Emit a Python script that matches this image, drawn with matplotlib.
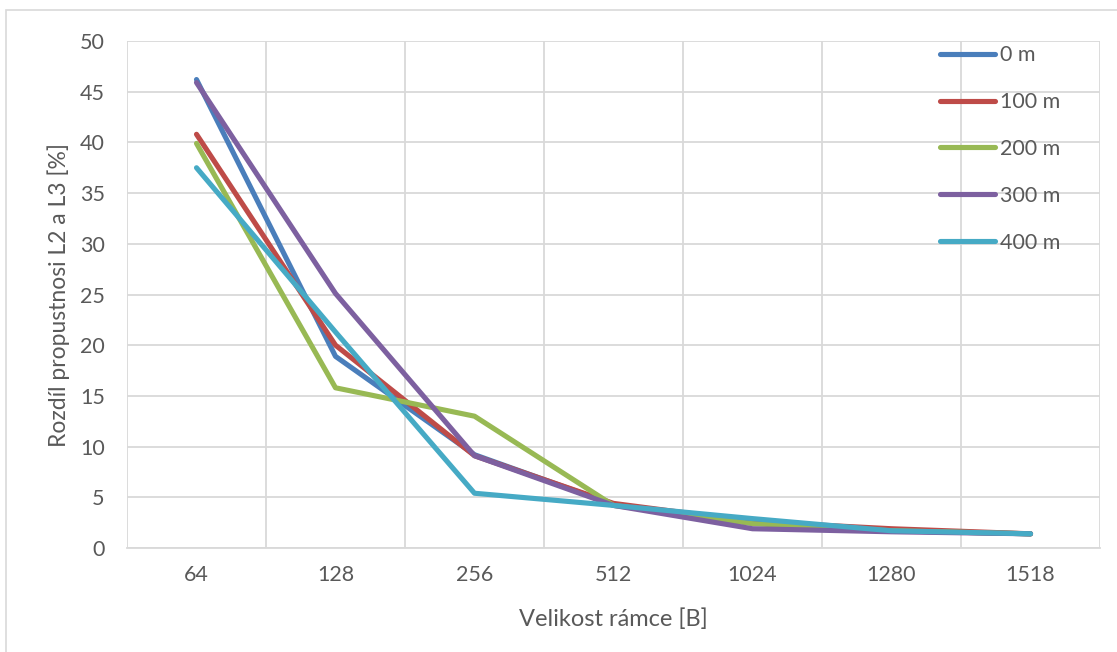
import numpy as np
import matplotlib.pyplot as plt
from matplotlib.patches import Rectangle

# data
frame_sizes = ["64", "128", "256", "512", "1024", "1280", "1518"]
series_names = ["0 m", "100 m", "200 m", "300 m", "400 m"]
diff_0m = [46.2, 18.9, 9.2, 4.3, 2.6, 1.7, 1.4]
diff_100m = [40.8, 20.0, 9.1, 4.4, 2.6, 1.9, 1.4]
diff_200m = [39.9, 15.8, 13.0, 4.2, 2.4, 1.7, 1.4]
diff_300m = [45.9, 25.1, 9.1, 4.2, 1.9, 1.6, 1.4]
diff_400m = [37.5, 21.3, 5.4, 4.2, 2.9, 1.7, 1.4]

colors = ["#4A7EBB", "#BE4B48", "#98B954", "#7D60A0", "#46AAC5"]

plt.rcParams["font.family"] = ["Lato", "DejaVu Sans"]

fig = plt.figure(figsize=(11.17, 6.52), dpi=100)
fig.patches.append(Rectangle((0.005, -0.01), 1.1, 0.995, transform=fig.transFigure,
                             fill=False, edgecolor="#D9D9D9", linewidth=1.2))
ax = fig.add_axes([0.1137, 0.1595, 0.8711, 0.7776])

x = np.arange(len(frame_sizes))
all_series = [diff_0m, diff_100m, diff_200m, diff_300m, diff_400m]
for name, vals, c in zip(series_names, all_series, colors):
    ax.plot(x, vals, color=c, linewidth=3.7, label=name,
            solid_capstyle="round", solid_joinstyle="round")

ax.set_xlim(-0.5, len(frame_sizes) - 0.5)
ax.set_ylim(0, 50)
ax.set_yticks(range(0, 51, 5))
ax.set_xticks(x)
ax.set_xticklabels(frame_sizes)
ax.set_xticks(np.arange(-0.5, len(frame_sizes)), minor=True)

ax.grid(axis="y", which="major", color="#D9D9D9", linewidth=1.3)
ax.grid(axis="x", which="minor", color="#D9D9D9", linewidth=1.3)
ax.grid(axis="x", which="major", visible=False)
ax.set_axisbelow(True)

for s in ["top", "right", "left"]:
    ax.spines[s].set_visible(False)
ax.spines["bottom"].set_color("#D9D9D9")
ax.spines["bottom"].set_linewidth(1.3)
ax.tick_params(which="both", length=0, labelsize=15.5, labelcolor="#595959")
ax.tick_params(axis="x", pad=12)
ax.tick_params(axis="y", pad=16)

ax.set_xlabel("Velikost rámce [B]", fontsize=17, color="#595959", labelpad=17)
ax.set_ylabel("Rozdíl propustnosi L2 a L3 [%]", fontsize=16.5, color="#595959", labelpad=7)

ax.legend(loc="upper left", bbox_to_anchor=(0.816, 1.030), frameon=False,
          fontsize=15.5, labelcolor="#595959", handlelength=2.55,
          handletextpad=0.23, labelspacing=1.25)

fig.savefig("out.png", dpi=100)
